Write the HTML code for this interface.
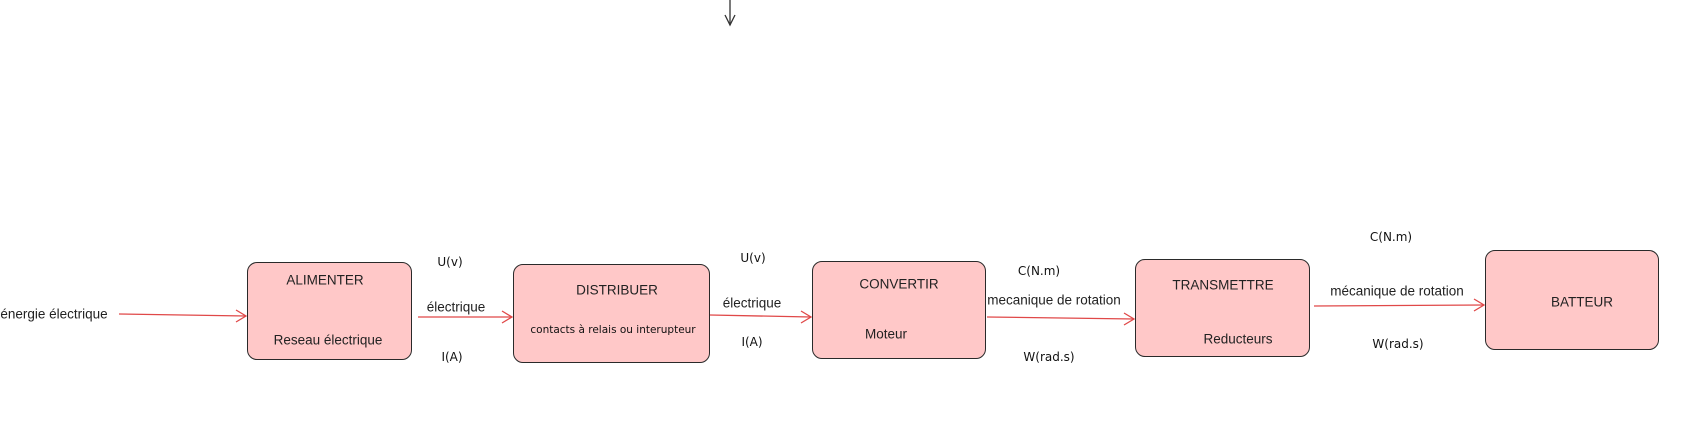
<!DOCTYPE html>
<html><head><meta charset="utf-8"><style>
body{margin:0;width:1697px;height:441px;background:#fff;overflow:hidden;position:relative;font-family:"Liberation Sans",sans-serif;color:#222}
.b{position:absolute;background:#ffc8c8;border:1.6px solid #2a2a2a;border-radius:10px;box-sizing:border-box}
.t{position:absolute;font-size:13.5px;white-space:nowrap;transform:translate(-50%,-50%)}
.h{position:absolute;font-size:12px;white-space:nowrap;transform:translate(-50%,-50%);font-family:"DejaVu Sans",sans-serif;color:#111}
</style></head><body>
<svg width="1697" height="441" style="position:absolute;left:0;top:0">
<g stroke="#e04848" stroke-width="1.3" fill="none">
<path d="M119 314 L246 316"/><path d="M236 310 L246 316 L236 322"/>
<path d="M418 317 L512 317"/><path d="M502 311 L512 317 L502 323"/>
<path d="M710 315 L811 317"/><path d="M801 311 L811 317 L801 323"/>
<path d="M987 317 L1134 319"/><path d="M1124 313 L1134 319 L1124 325"/>
<path d="M1314 306 L1484 305"/><path d="M1474 299 L1484 305 L1474 311"/>
</g>
<g stroke="#333" stroke-width="1.3" fill="none">
<path d="M730 0 L730 25"/><path d="M725 15 L730 25 L735 15"/>
</g>
</svg>
<div class="b" style="left:247px;top:262px;width:165px;height:98px"></div>
<div class="b" style="left:513px;top:264px;width:197px;height:99px"></div>
<div class="b" style="left:812px;top:261px;width:174px;height:98px"></div>
<div class="b" style="left:1135px;top:259px;width:175px;height:98px"></div>
<div class="b" style="left:1485px;top:250px;width:174px;height:100px"></div>
<div class="t" style="left:54px;top:314px">énergie électrique</div>
<div class="t" style="left:325px;top:280px">ALIMENTER</div>
<div class="t" style="left:328px;top:340px">Reseau électrique</div>
<div class="h" style="left:450px;top:262px">U(v)</div>
<div class="t" style="left:456px;top:307px">électrique</div>
<div class="h" style="left:452px;top:357px">I(A)</div>
<div class="t" style="left:617px;top:290px">DISTRIBUER</div>
<div class="h" style="left:613px;top:330px;font-size:10.5px">contacts à relais ou interupteur</div>
<div class="h" style="left:753px;top:258px">U(v)</div>
<div class="t" style="left:752px;top:303px">électrique</div>
<div class="h" style="left:752px;top:342px">I(A)</div>
<div class="t" style="left:899px;top:284px">CONVERTIR</div>
<div class="t" style="left:886px;top:334px">Moteur</div>
<div class="h" style="left:1039px;top:271px">C(N.m)</div>
<div class="t" style="left:1054px;top:300px">mecanique de rotation</div>
<div class="h" style="left:1049px;top:357px">W(rad.s)</div>
<div class="t" style="left:1223px;top:285px">TRANSMETTRE</div>
<div class="t" style="left:1238px;top:339px">Reducteurs</div>
<div class="h" style="left:1391px;top:237px">C(N.m)</div>
<div class="t" style="left:1397px;top:291px">mécanique de rotation</div>
<div class="h" style="left:1398px;top:344px">W(rad.s)</div>
<div class="t" style="left:1582px;top:302px">BATTEUR</div>
</body></html>
